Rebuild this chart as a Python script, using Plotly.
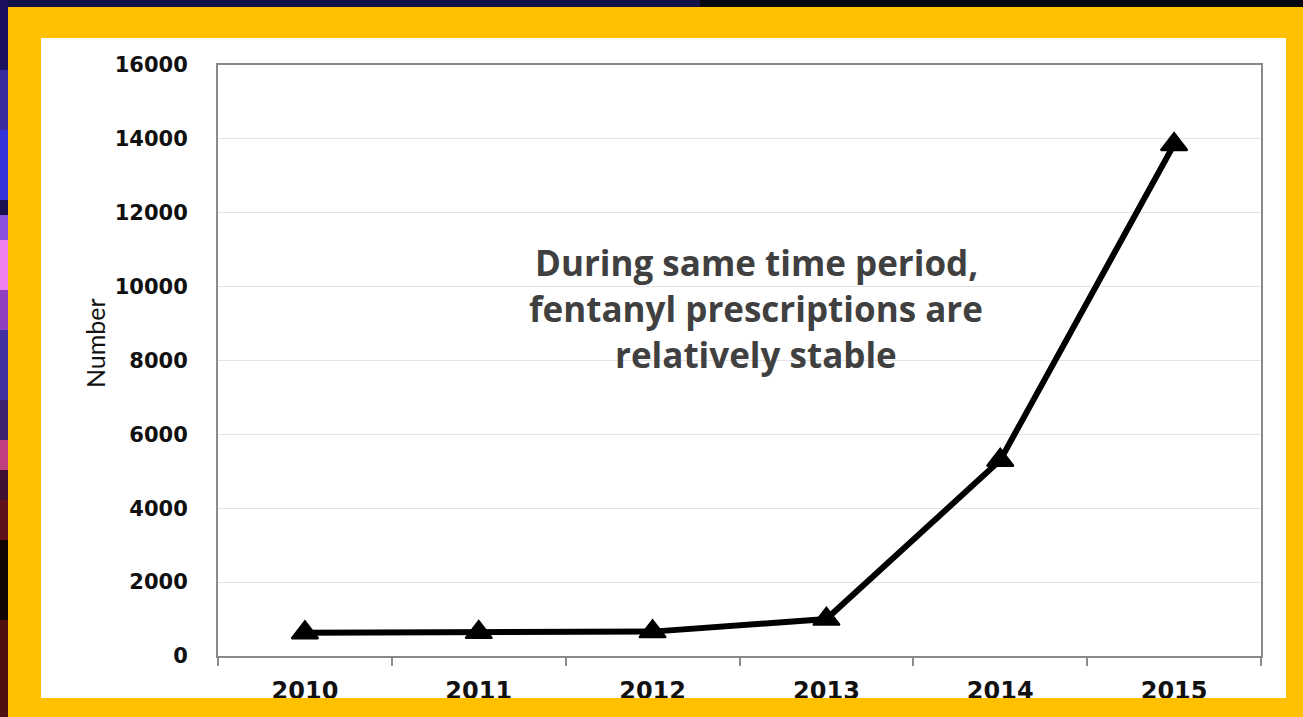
import plotly.graph_objects as go

# Annual counts
years = ["2010", "2011", "2012", "2013", "2014", "2015"]
counts = [630, 640, 660, 1000, 5300, 13850]

y_ticks = [0, 2000, 4000, 6000, 8000, 10000, 12000, 14000, 16000]
y_title = "Number"
note_lines = [
    "During same time period,",
    "fentanyl prescriptions are",
    "relatively stable",
]

W, H = 1303, 717
L, R, T, B = 218, 1261, 65, 656  # plot area in pixels


def px(x):
    return (x - L) / (R - L)


def py(y):
    return (B - y) / (B - T)


def rect(x0, y0, x1, y1, color, layer="below"):
    return dict(type="rect", xref="paper", yref="paper",
                x0=px(x0), x1=px(x1), y0=py(y1), y1=py(y0),
                fillcolor=color, line=dict(width=0), layer=layer)


shapes = []
# dark slide background edges
shapes.append(rect(0, 0, 700, 7, "#12124a"))
shapes.append(rect(700, 0, W, 7, "#06060e"))
left_strip = [
    (0, 70, "#1c1060"), (70, 130, "#3a2aa0"), (130, 200, "#3434d8"),
    (200, 215, "#1a1050"), (215, 240, "#8a50e0"), (240, 290, "#ee80ee"),
    (290, 330, "#9040c0"), (330, 400, "#4030a0"), (400, 440, "#402070"),
    (440, 470, "#c04080"), (470, 500, "#401030"), (500, 540, "#601018"),
    (540, 620, "#120506"), (620, 717, "#501010"),
]
for y0, y1, c in left_strip:
    shapes.append(rect(0, y0, 8, y1, c))
# gold frame and white panel
shapes.append(rect(8, 7, W, H, "#FFC000"))
shapes.append(rect(41, 38, 1286, 698, "#FFFFFF"))
# bottom frame edge sits over the year labels
shapes.append(rect(8, 698, W, H, "#FFC000", layer="above"))

fig = go.Figure()
fig.add_trace(go.Scatter(
    x=years, y=counts, mode="lines+markers",
    line=dict(color="black", width=6),
    marker=dict(symbol="triangle-up", size=23, color="black",
                line=dict(color="black", width=2)),
    showlegend=False, cliponaxis=False,
))

annotations = [dict(
    text=y_title, xref="paper", yref="paper", x=px(95), y=py(343),
    textangle=-90, showarrow=False, xanchor="center", yanchor="middle",
    font=dict(family="Lato", size=25, color="#111111"),
)]
line_centers = [262, 308, 354]
for txt, yc in zip(note_lines, line_centers):
    annotations.append(dict(
        text=txt, xref="paper", yref="paper", x=px(756), y=py(yc),
        showarrow=False, xanchor="center", yanchor="middle",
        font=dict(family="Open Sans", size=35, color="#404040", weight="bold"),
    ))

fig.update_layout(
    width=W, height=H,
    margin=dict(l=L, r=W - R, t=T, b=H - B, pad=0),
    paper_bgcolor="#0a0a2a", plot_bgcolor="#FFFFFF",
    shapes=shapes, annotations=annotations,
    xaxis=dict(
        type="category", range=[-0.5, 5.5], tickson="boundaries",
        ticks="outside", ticklen=8, tickwidth=2, tickcolor="#8a8a8a",
        showline=True, linecolor="#8a8a8a", linewidth=2, mirror=True,
        showgrid=False, ticklabelstandoff=12,
        tickfont=dict(family="DejaVu Sans", size=24, color="#111111", weight="bold"),
    ),
    yaxis=dict(
        range=[0, 16000], tickvals=y_ticks, ticktext=[str(v) for v in y_ticks],
        ticks="", showline=True, linecolor="#8a8a8a", linewidth=2, mirror=True,
        showgrid=True, gridcolor="#e4e4e4", gridwidth=1, zeroline=False,
        ticklabelstandoff=24,
        tickfont=dict(family="DejaVu Sans", size=21, color="#111111", weight="bold"),
    ),
)

fig.write_html("out.html")
